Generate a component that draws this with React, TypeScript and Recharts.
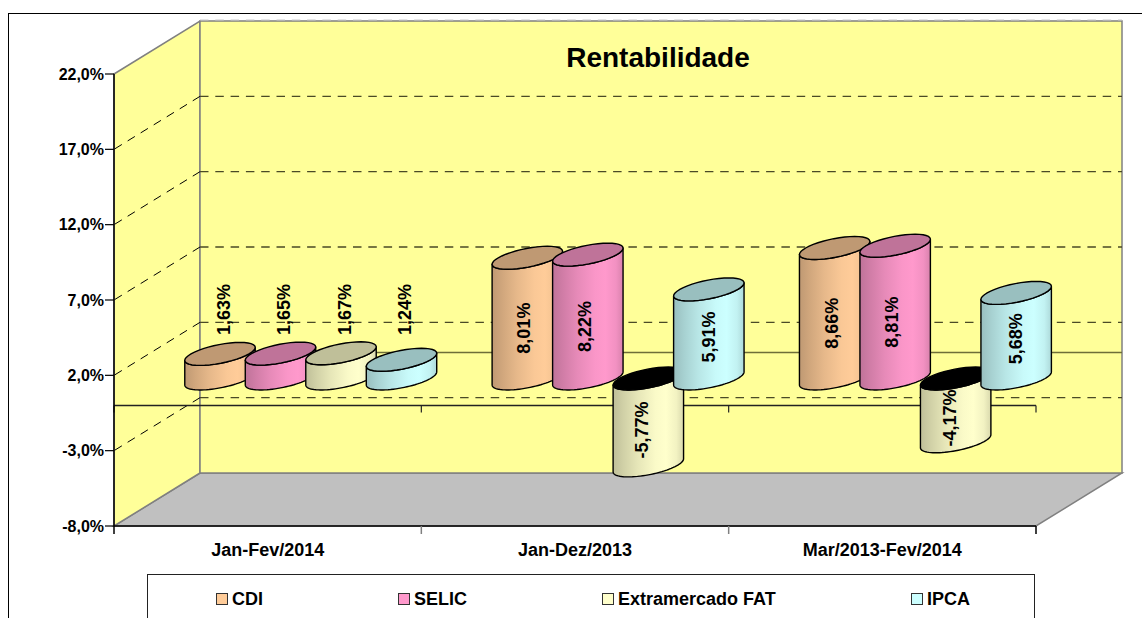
import React from 'react';
import {
  BarChart,
  Bar,
  XAxis,
  YAxis,
  CartesianGrid,
  Legend,
  LabelList,
  ReferenceArea,
  ReferenceLine,
} from 'recharts';

const categories = ['Jan-Fev/2014', 'Jan-Dez/2013', 'Mar/2013-Fev/2014'];
const cdi = [1.63, 8.01, 8.66];
const selic = [1.65, 8.22, 8.81];
const fat = [1.67, -5.77, -4.17];
const ipca = [1.24, 5.91, 5.68];
const yTicks = [-8, -3, 2, 7, 12, 17, 22];

const seriesNames = ['CDI', 'SELIC', 'Extramercado FAT', 'IPCA'];
const seriesFill = ['#FFCC99', '#FF99CC', '#FFFFCC', '#CCFFFF'];
const seriesTop = ['#BF9973', '#BF7399', '#BFBF99', '#99BFBF'];
const legendLeft = [68, 250, 454, 763];

const rows = categories.map((name, i) => ({
  name,
  CDI: cdi[i],
  SELIC: selic[i],
  'Extramercado FAT': fat[i],
  IPCA: ipca[i],
}));

const FONT = '"Liberation Sans", Arial, sans-serif';

// oblique projection of the 3D box
const DX = 86;
const DY = 53;
// cylinder sits half way into the depth; its circle projects on these two vectors
const MID_X = 43;
const MID_Y = 27;
const HALF_W = 29;
const RX = 20;
const RY = -11.5;
const T0 = Math.atan2(RX, HALF_W);

const comma = (v: number, digits: number) => v.toFixed(digits).replace('.', ',');

function rimPoint(cx: number, y: number, t: number) {
  return `${cx + HALF_W * Math.cos(t) + RX * Math.sin(t)} ${y + RY * Math.sin(t)}`;
}

function arc(cx: number, y: number, from: number, to: number) {
  const pts: string[] = [];
  for (let i = 0; i <= 40; i++) pts.push(rimPoint(cx, y, from + ((to - from) * i) / 40));
  return pts;
}

function makeCylinder(index: number) {
  return (props: any) => {
    const { x, y, width, height } = props;
    const cx = x + width / 2 + MID_X;
    const y0 = Math.min(y, y + height) - MID_Y;
    const y1 = Math.max(y, y + height) - MID_Y;
    const negative = height < 0;
    // lower front arc of the base, then upper part back along the near side of the top
    const bottom = arc(cx, y1, T0 + Math.PI, T0 + 2 * Math.PI);
    const top = arc(cx, y0, T0 + 2 * Math.PI, T0 + Math.PI);
    const body = `M${bottom.join(' L')} L${top.join(' L')} Z`;
    const cap = `M${arc(cx, y0, 0, 2 * Math.PI).join(' L')} Z`;
    return (
      <g>
        <path d={body} fill={`url(#cyl${index})`} stroke="#000" strokeWidth={1.4} strokeLinejoin="round" />
        <path d={cap} fill={negative ? '#000' : seriesTop[index]} stroke="#000" strokeWidth={1.4} />
      </g>
    );
  };
}

function dataLabel(props: any) {
  const { x, y, width, height, value } = props;
  const cx = x + width / 2 + MID_X;
  const base = y + height - MID_Y;
  const mid = (base + y - MID_Y) / 2;
  let cy: number;
  let lx: number;
  if (value < 0) {
    cy = mid + 8;
    lx = cx - 6;
  } else if (value < 2) {
    cy = base - 69;
    lx = cx + 4;
  } else if (value < 7) {
    cy = mid + 3;
    lx = cx;
  } else {
    cy = mid + 10;
    lx = cx - 3;
  }
  return (
    <text
      x={lx}
      y={cy}
      transform={`rotate(-90 ${lx} ${cy})`}
      textAnchor="middle"
      dominantBaseline="central"
      fontFamily={FONT}
      fontWeight="bold"
      fontSize={18}
      fill="#000"
    >
      {comma(value, 2)}%
    </text>
  );
}

function Walls(props: any) {
  const { x, y, width, height } = props;
  const b = y + height;
  const r = x + width;
  return (
    <g>
      <polygon points={`${x},${b} ${x + DX},${b - DY} ${r + DX},${b - DY} ${r},${b}`} fill="#C0C0C0" stroke="#808080" strokeWidth={1.5} />
      <polygon points={`${x},${y} ${x + DX},${y - DY} ${x + DX},${b - DY} ${x},${b}`} fill="#FFFF99" stroke="#808080" strokeWidth={1.5} />
      <rect x={x + DX} y={y - DY} width={width} height={height} fill="#FFFF99" stroke="#808080" strokeWidth={1.5} />
      <line x1={x + DX} y1={y - DY - 1} x2={r + DX} y2={y - DY - 1} stroke="#C8C8C8" strokeWidth={1} strokeDasharray="8.5 6.8" />
    </g>
  );
}

function gridLine(props: any) {
  const { x1, x2, y1, index } = props;
  if (index === 0 || index === yTicks.length - 1) return <g key={`g${index}`} />;
  return (
    <g key={`g${index}`}>
      <line x1={x1 + DX} y1={y1 - DY} x2={x1} y2={y1} stroke="#000" strokeWidth={1} strokeDasharray="8.5 6.8" />
      <line x1={x1 + DX} y1={y1 - DY} x2={x2 + DX} y2={y1 - DY} stroke="#4A4A26" strokeWidth={1.4} strokeDasharray="8.5 6.8" />
    </g>
  );
}

function zeroLines(props: any) {
  const { x1, x2, y1 } = props;
  const step = (x2 - x1) / categories.length;
  return (
    <g>
      <line x1={x1 + DX} y1={y1 - DY} x2={x2 + DX} y2={y1 - DY} stroke="#6E6E38" strokeWidth={1.5} />
      <line x1={x1} y1={y1} x2={x2} y2={y1} stroke="#222" strokeWidth={1.5} />
      {categories.map((c, i) => (
        <line key={c} x1={x1 + step * (i + 1)} y1={y1} x2={x1 + step * (i + 1)} y2={y1 + 7} stroke="#222" strokeWidth={1.2} />
      ))}
      <line x1={x1} y1={y1} x2={x1} y2={y1 + 7} stroke="#222" strokeWidth={1.2} />
    </g>
  );
}

function CategoryTick(props: any) {
  const { x, y, payload, width, visibleTicksCount } = props;
  const step = width / visibleTicksCount;
  const last = payload.index === visibleTicksCount - 1;
  return (
    <g>
      <line x1={x - step / 2} y1={y - 8} x2={x - step / 2} y2={y} stroke={payload.index === 0 ? '#000' : '#808080'} strokeWidth={1.5} />
      {last && <line x1={x + step / 2} y1={y - 8} x2={x + step / 2} y2={y} stroke="#000" strokeWidth={1.5} />}
      <text x={x} y={y + 22} textAnchor="middle" fontFamily={FONT} fontWeight="bold" fontSize={18} fill="#000">
        {payload.value}
      </text>
    </g>
  );
}

function LegendBox(props: any) {
  const items = props.payload ?? [];
  return (
    <div style={{ position: 'relative', width: '100%', height: '100%', fontFamily: FONT, fontWeight: 'bold', fontSize: 18 }}>
      {items.map((it: any, i: number) => (
        <div key={it.value} style={{ position: 'absolute', left: legendLeft[i], top: 14, display: 'flex', alignItems: 'center', color: '#000', lineHeight: '20px' }}>
          <span style={{ display: 'inline-block', width: 10, height: 10, background: it.color, border: '1.5px solid #333', marginRight: 4 }} />
          {it.value}
        </div>
      ))}
    </div>
  );
}

const shadeStops = [
  [0, 0.75],
  [0.15, 0.82],
  [0.35, 0.9],
  [0.6, 0.98],
  [0.75, 1],
  [0.9, 0.95],
  [1, 0.85],
];

function shade(hex: string, f: number) {
  const n = parseInt(hex.slice(1), 16);
  const c = [(n >> 16) & 255, (n >> 8) & 255, n & 255].map((v) => Math.round(v * f));
  return `rgb(${c.join(',')})`;
}

export default function App() {
  return (
    <div style={{ position: 'absolute', left: 0, top: 0, width: 1142, height: 618, overflow: 'hidden', background: '#fff' }}>
      <div style={{ position: 'absolute', left: 8, top: 13, width: 1200, height: 700, border: '1.5px solid #000', boxSizing: 'border-box' }} />
      <BarChart
        width={1142}
        height={618}
        data={rows}
        margin={{ top: 74, right: 106, bottom: 0, left: 0 }}
        barSize={56}
        barGap={4.5}
        style={{ position: 'absolute', left: 0, top: 0 }}
      >
        <defs>
          {seriesFill.map((c, i) => (
            <linearGradient key={c} id={`cyl${i}`} x1="0" y1="0" x2="1" y2="0">
              {shadeStops.map(([o, f]) => (
                <stop key={o} offset={o} stopColor={shade(c, f)} />
              ))}
            </linearGradient>
          ))}
        </defs>
        <ReferenceArea y1={-8} y2={22} ifOverflow="visible" shape={Walls} zIndex={-200} />
        <CartesianGrid horizontal={gridLine} vertical={false} />
        <ReferenceLine y={0} ifOverflow="visible" shape={zeroLines} zIndex={-50} />
        <XAxis
          dataKey="name"
          height={92}
          interval={0}
          axisLine={{ stroke: '#000', strokeWidth: 1.5 }}
          tickLine={false}
          tickSize={8}
          tickMargin={0}
          tick={CategoryTick}
        />
        <YAxis
          width={114}
          domain={[-8, 22]}
          ticks={yTicks}
          interval={0}
          allowDataOverflow
          axisLine={{ stroke: '#000', strokeWidth: 1.5 }}
          tickLine={{ stroke: '#000', strokeWidth: 1.2 }}
          tickSize={9}
          tickMargin={1}
          tickFormatter={(v: number) => `${comma(v, 1)}%`}
          tick={{ fontFamily: FONT, fontWeight: 'bold', fontSize: 16, fill: '#000' }}
        />
        {seriesNames.map((s, i) => (
          <Bar key={s} dataKey={s} name={s} fill={seriesFill[i]} isAnimationActive={false} shape={makeCylinder(i)}>
            <LabelList dataKey={s} content={dataLabel} />
          </Bar>
        ))}
        <Legend
          layout="horizontal"
          verticalAlign="middle"
          itemSorter={null as any}
          content={LegendBox}
          wrapperStyle={{ position: 'absolute', left: 147, top: 574, width: 888, height: 60, border: '1.5px solid #222', boxSizing: 'border-box', background: '#fff' }}
        />
      </BarChart>
      <div style={{ position: 'absolute', left: 458, width: 400, top: 41, textAlign: 'center', fontFamily: FONT, fontWeight: 'bold', fontSize: 28, lineHeight: '34px', color: '#000' }}>
        Rentabilidade
      </div>
    </div>
  );
}
